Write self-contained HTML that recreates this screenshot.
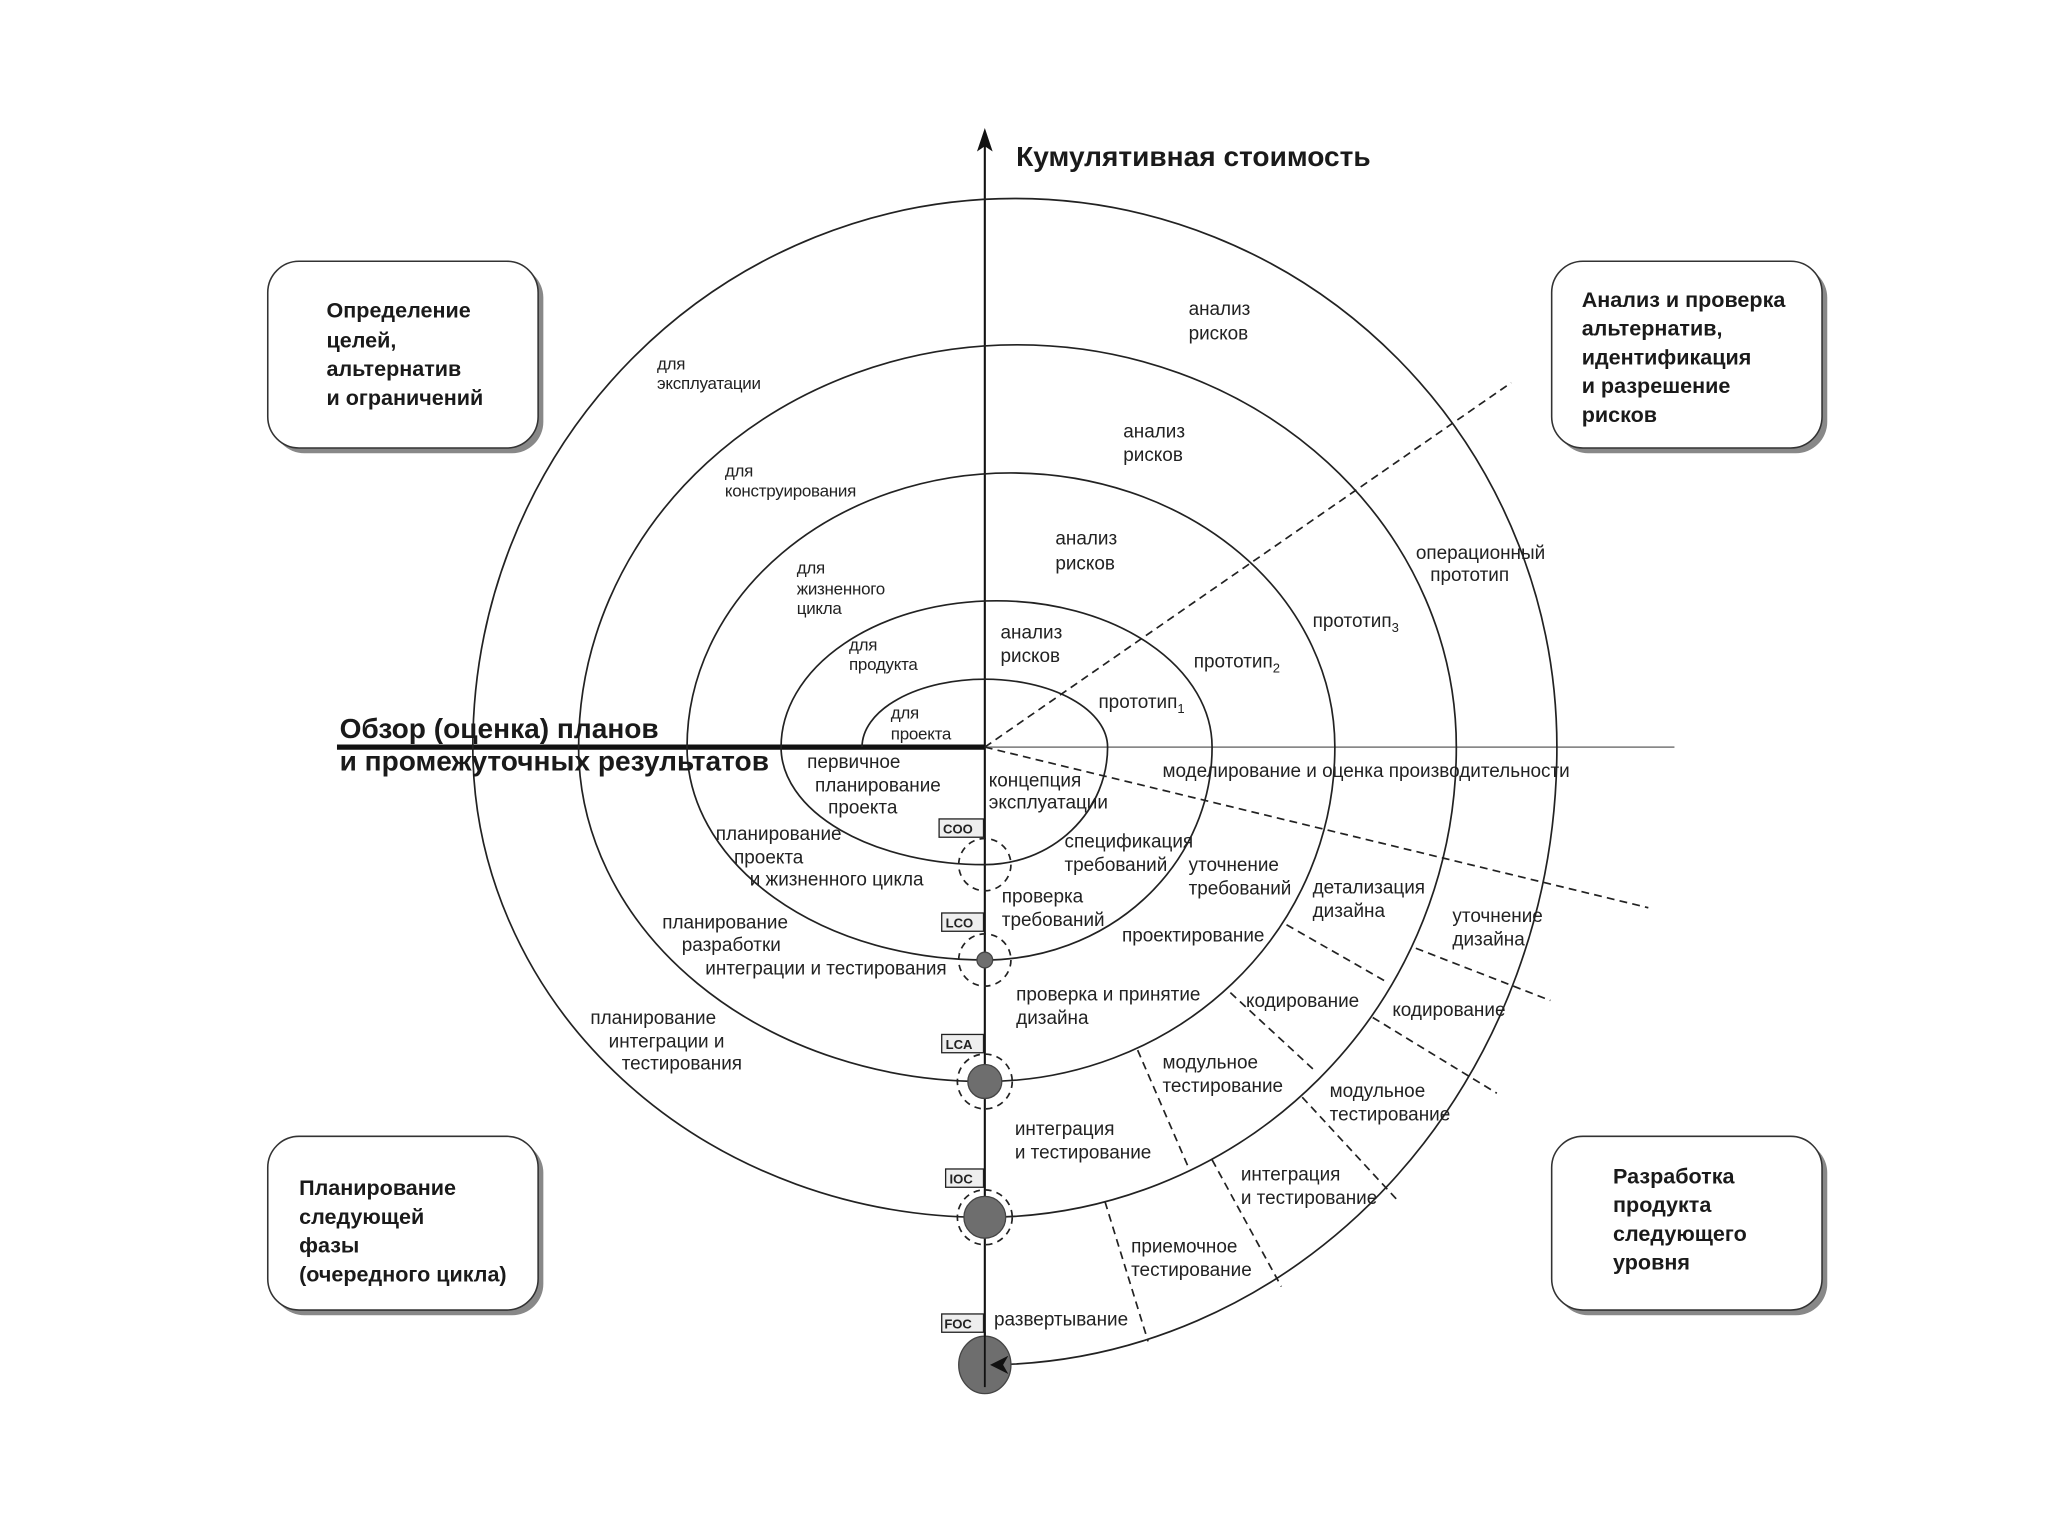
<!DOCTYPE html>
<html><head><meta charset="utf-8"><style>
html,body{margin:0;padding:0;background:#fff;}
svg{display:block;}
text{font-family:"Liberation Sans",sans-serif;fill:#222;}
.l{font-size:14.5px;letter-spacing:0px;}
.s{font-size:13px;letter-spacing:-0.2px;}
.b{font-size:16.5px;font-weight:bold;fill:#1a1a1a;}
.h{font-size:21.5px;font-weight:bold;fill:#1a1a1a;}
.m{font-size:10px;font-weight:bold;}
</style></head><body>
<svg width="2048" height="1536" viewBox="0 0 1568 1176" xmlns="http://www.w3.org/2000/svg">
<defs>
<marker id="ah" markerWidth="12" markerHeight="12" refX="10" refY="6" orient="auto" markerUnits="userSpaceOnUse">
<path d="M0,0 L12,6 L0,12 L4,6 z" fill="#111"/></marker>
</defs>
<rect width="1568" height="1176" fill="#fff"/>
<g fill="#fff" stroke="#333" stroke-width="1.2">
<rect x="209" y="204" width="207" height="143" rx="24" fill="#888" stroke="none"/>
<rect x="205" y="200" width="207" height="143" rx="24"/>
<rect x="1192" y="204" width="207" height="143" rx="24" fill="#888" stroke="none"/>
<rect x="1188" y="200" width="207" height="143" rx="24"/>
<rect x="209" y="874" width="207" height="133" rx="24" fill="#888" stroke="none"/>
<rect x="205" y="870" width="207" height="133" rx="24"/>
<rect x="1192" y="874" width="207" height="133" rx="24" fill="#888" stroke="none"/>
<rect x="1188" y="870" width="207" height="133" rx="24"/>
</g>
<line x1="754" y1="104" x2="754" y2="1062" stroke="#111" stroke-width="1.6"/>
<path d="M754,98 L748,116 L754,112 L760,116 z" fill="#111"/>
<line x1="754" y1="572" x2="1282" y2="572" stroke="#777" stroke-width="1.2"/>
<line x1="258" y1="572" x2="754" y2="572" stroke="#111" stroke-width="4"/>
<path fill="none" stroke="#222" stroke-width="1.3" marker-end="url(#ah)" d="
M660,572 A94,52 0 0 1 848,572 A94,90 0 0 1 754,662
A156,90 0 0 1 598,572 A165,112 0 0 1 928,572 A174,163 0 0 1 754,735
A228,163 0 0 1 526,572 A248,210 0 0 1 1022,572 A268,256 0 0 1 754,828
A311,256 0 0 1 443,572 A336,308 0 0 1 1115,572 A361,360 0 0 1 754,932
A392,360 0 0 1 362,572 A415,420 0 0 1 1192,572 A438,473 0 0 1 756,1045"/>
<g stroke="#222" stroke-width="1.3" stroke-dasharray="6,4" fill="none">
<line x1="754" y1="572" x2="1157" y2="293"/>
<line x1="754" y1="572" x2="1262" y2="695"/>
<line x1="985" y1="708" x2="1062" y2="752"/>
<line x1="942" y1="760" x2="1008" y2="821"/>
<line x1="1084" y1="726" x2="1187" y2="766"/>
<line x1="1051" y1="779" x2="1146" y2="837"/>
<line x1="871" y1="804" x2="910" y2="894"/>
<line x1="997" y1="840" x2="1070" y2="919"/>
<line x1="928" y1="888" x2="981" y2="985"/>
<line x1="846" y1="920" x2="879" y2="1027"/>
</g>
<g fill="none" stroke="#222" stroke-width="1.3" stroke-dasharray="5,4">
<circle cx="754" cy="662" r="20"/>
<circle cx="754" cy="735" r="20"/>
<circle cx="754" cy="828" r="21"/>
<circle cx="754" cy="932" r="21"/>
</g>
<g fill="#6e6e6e" stroke="#444">
<circle cx="754" cy="735" r="6"/>
<circle cx="754" cy="828" r="13"/>
<circle cx="754" cy="932" r="16"/>
<ellipse cx="754" cy="1045" rx="20" ry="22"/>
</g>
<line x1="754" y1="1020" x2="754" y2="1062" stroke="#111" stroke-width="1.4"/>
<path d="M758,1045 L772,1038 L768,1045 L772,1052 z" fill="#111"/>
<g fill="#eee" stroke="#222" stroke-width="1">
<rect x="719" y="627" width="34" height="14"/>
<rect x="721" y="699" width="32" height="14"/>
<rect x="721" y="792" width="32" height="14"/>
<rect x="724" y="895" width="29" height="14"/>
<rect x="721" y="1006" width="32" height="14"/>
</g>
<g class="m">
<text x="722" y="638" class="m">COO</text>
<text x="724" y="710" class="m">LCO</text>
<text x="724" y="803" class="m">LCA</text>
<text x="727" y="906" class="m">IOC</text>
<text x="723" y="1017" class="m">FOC</text>
</g>
<text x="778" y="127" class="h">Кумулятивная стоимость</text>
<text x="260" y="565" class="h">Обзор (оценка) планов</text>
<text x="260" y="590" class="h">и промежуточных результатов</text>
<text class="b" x="250" y="243">Определение</text>
<text class="b" x="250" y="266">целей,</text>
<text class="b" x="250" y="288">альтернатив</text>
<text class="b" x="250" y="310">и ограничений</text>
<text class="b" x="1211" y="235">Анализ и проверка</text>
<text class="b" x="1211" y="257">альтернатив,</text>
<text class="b" x="1211" y="279">идентификация</text>
<text class="b" x="1211" y="301">и разрешение</text>
<text class="b" x="1211" y="323">рисков</text>
<text class="b" x="229" y="915">Планирование</text>
<text class="b" x="229" y="937">следующей</text>
<text class="b" x="229" y="959">фазы</text>
<text class="b" x="229" y="981">(очередного цикла)</text>
<text class="b" x="1235" y="906">Разработка</text>
<text class="b" x="1235" y="928">продукта</text>
<text class="b" x="1235" y="950">следующего</text>
<text class="b" x="1235" y="972">уровня</text>
<g class="l">
<text x="910" y="241">анализ</text><text x="910" y="260">рисков</text>
<text x="860" y="335">анализ</text><text x="860" y="353">рисков</text>
<text x="808" y="417">анализ</text><text x="808" y="436">рисков</text>
<text x="766" y="489">анализ</text><text x="766" y="507">рисков</text>
<text x="1084" y="428">операционный</text><text x="1095" y="445">прототип</text>
<text x="1005" y="480">прототип<tspan font-size="10" dy="4">3</tspan></text>
<text x="914" y="511">прототип<tspan font-size="10" dy="4">2</tspan></text>
<text x="841" y="542">прототип<tspan font-size="10" dy="4">1</tspan></text>
<text x="890" y="595">моделирование и оценка производительности</text>
<text x="618" y="588">первичное</text><text x="624" y="606">планирование</text><text x="634" y="623">проекта</text>
<text x="757" y="602">концепция</text><text x="757" y="619">эксплуатации</text>
<text x="548" y="643">планирование</text><text x="562" y="661">проекта</text><text x="574" y="678">и жизненного цикла</text>
<text x="815" y="649">спецификация</text><text x="815" y="667">требований</text>
<text x="910" y="667">уточнение</text><text x="910" y="685">требований</text>
<text x="767" y="691">проверка</text><text x="767" y="709">требований</text>
<text x="1005" y="684">детализация</text><text x="1005" y="702">дизайна</text>
<text x="1112" y="706">уточнение</text><text x="1112" y="724">дизайна</text>
<text x="859" y="721">проектирование</text>
<text x="507" y="711">планирование</text><text x="522" y="728">разработки</text><text x="540" y="746">интеграции и тестирования</text>
<text x="778" y="766">проверка и принятие</text><text x="778" y="784">дизайна</text>
<text x="954" y="771">кодирование</text>
<text x="1066" y="778">кодирование</text>
<text x="452" y="784">планирование</text><text x="466" y="802">интеграции и</text><text x="476" y="819">тестирования</text>
<text x="890" y="818">модульное</text><text x="890" y="836">тестирование</text>
<text x="1018" y="840">модульное</text><text x="1018" y="858">тестирование</text>
<text x="777" y="869">интеграция</text><text x="777" y="887">и тестирование</text>
<text x="950" y="904">интеграция</text><text x="950" y="922">и тестирование</text>
<text x="866" y="959">приемочное</text><text x="866" y="977">тестирование</text>
<text x="761" y="1015">развертывание</text>
</g>
<g class="s">
<text x="503" y="283">для</text><text x="503" y="298">эксплуатации</text>
<text x="555" y="365">для</text><text x="555" y="380">конструирования</text>
<text x="610" y="439">для</text><text x="610" y="455">жизненного</text><text x="610" y="470">цикла</text>
<text x="650" y="498">для</text><text x="650" y="513">продукта</text>
<text x="682" y="550">для</text><text x="682" y="566">проекта</text>
</g>
</svg>
</body></html>
